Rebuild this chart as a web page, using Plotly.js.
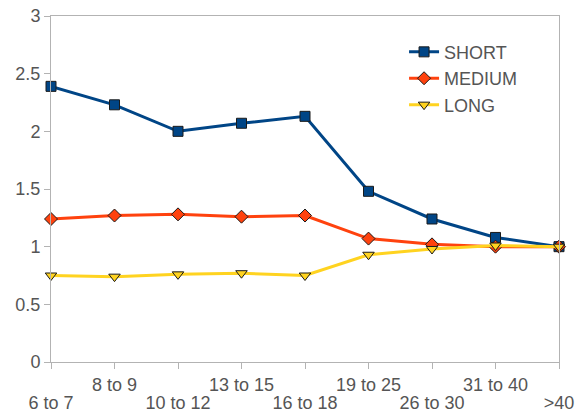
<!DOCTYPE html>
<html>
<head>
<meta charset="utf-8">
<script src="https://cdn.plot.ly/plotly-3.0.1.min.js"></script>
<style>html,body{margin:0;padding:0;background:#fff}#chart{width:577px;height:412px}</style>
</head>
<body>
<div id="chart"></div>
<script>
var categories = ["6 to 7", "8 to 9", "10 to 12", "13 to 15", "16 to 18", "19 to 25", "26 to 30", "31 to 40", ">40"];
var shortVals = [2.39, 2.23, 2.00, 2.07, 2.13, 1.48, 1.24, 1.08, 1.00];
var mediumVals = [1.24, 1.27, 1.28, 1.26, 1.27, 1.07, 1.02, 1.00, 1.00];
var longVals = [0.75, 0.74, 0.76, 0.77, 0.75, 0.93, 0.98, 1.01, 1.00];
var yTicks = [0, 0.5, 1, 1.5, 2, 2.5, 3];

var idx = categories.map(function (c, i) { return i; });
var upperText = categories.map(function (c, i) { return i % 2 === 1 ? c : ""; });
var lowerIdx = idx.filter(function (i) { return i % 2 === 0; });
var lowerText = lowerIdx.map(function (i) { return categories[i]; });

function series(name, vals, color, symbol, size) {
  return {
    x: idx, y: vals, name: name, type: "scatter", mode: "lines+markers",
    line: {color: color, width: 3},
    marker: {symbol: symbol, size: size, color: color, line: {color: "#1a1a1a", width: 1}},
    cliponaxis: false
  };
}

var data = [
  series("SHORT", shortVals, "#004586", "square", 10),
  series("MEDIUM", mediumVals, "#ff420e", "diamond", 10),
  series("LONG", longVals, "#ffd320", "triangle-down", 10)
];

var textColor = "#555";
var layout = {
  width: 577, height: 412,
  margin: {l: 51, r: 18, t: 16, b: 50},
  paper_bgcolor: "#fff", plot_bgcolor: "#fff",
  font: {family: "Liberation Sans, Arial, sans-serif", size: 18, color: textColor},
  showlegend: true,
  legend: {x: 0.695, y: 0.949, xanchor: "left", yanchor: "top", font: {size: 18, color: textColor},
           bgcolor: "rgba(0,0,0,0)", tracegroupgap: 0, itemwidth: 30},
  xaxis: {
    range: [0, categories.length - 1], tickvals: idx, ticktext: upperText,
    showgrid: false, zeroline: false, showline: true, linecolor: "#b3b3b3", linewidth: 1,
    mirror: true, ticks: "outside", ticklen: 6, tickcolor: "#b3b3b3",
    tickfont: {size: 18, color: textColor}, fixedrange: true
  },
  xaxis2: {
    overlaying: "x", side: "bottom", anchor: "y",
    range: [0, categories.length - 1], tickvals: lowerIdx, ticktext: lowerText,
    showgrid: false, zeroline: false, showline: false,
    ticks: "outside", ticklen: 6, tickcolor: "rgba(0,0,0,0)", ticklabelstandoff: 18,
    tickfont: {size: 18, color: textColor}, fixedrange: true
  },
  yaxis: {
    range: [0, 3], tickvals: yTicks, ticktext: yTicks.map(String),
    showgrid: false, zeroline: false, showline: true, linecolor: "#b3b3b3", linewidth: 1,
    mirror: true, ticks: "outside", ticklen: 6, tickcolor: "#b3b3b3",
    tickfont: {size: 18, color: textColor}, fixedrange: true
  }
};

// invisible trace to activate the second x-axis for the staggered lower labels
data.push({x: [0], y: [0], xaxis: "x2", yaxis: "y", mode: "markers", showlegend: false,
           hoverinfo: "skip", marker: {opacity: 0}});

Plotly.newPlot("chart", data, layout, {displayModeBar: false, staticPlot: true});
</script>
</body>
</html>
